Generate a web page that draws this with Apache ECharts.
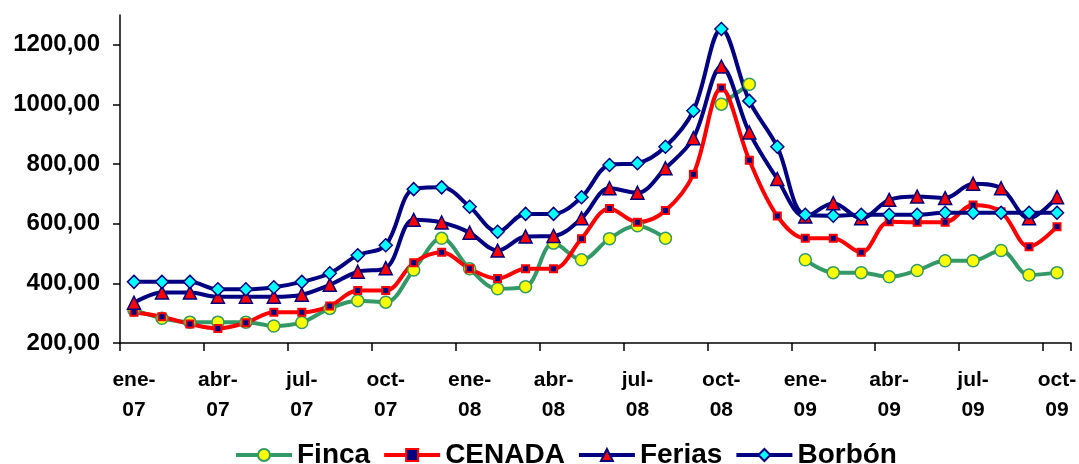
<!DOCTYPE html>
<html>
<head>
<meta charset="utf-8">
<script src="https://cdn.jsdelivr.net/npm/echarts@6/dist/echarts.min.js"></script>
<style>html,body{margin:0;padding:0;background:#fff}#c{width:1079px;height:464px}</style>
</head>
<body>
<div id="c"></div>
<script>
const months = ['ene-\n07','feb-\n07','mar-\n07','abr-\n07','may-\n07','jun-\n07','jul-\n07','ago-\n07','sep-\n07','oct-\n07','nov-\n07','dic-\n07',
                'ene-\n08','feb-\n08','mar-\n08','abr-\n08','may-\n08','jun-\n08','jul-\n08','ago-\n08','sep-\n08','oct-\n08','nov-\n08','dic-\n08',
                'ene-\n09','feb-\n09','mar-\n09','abr-\n09','may-\n09','jun-\n09','jul-\n09','ago-\n09','sep-\n09','oct-\n09'];
const finca  = [311,283,270,270,270,257,269,316,342,337,445,551, 449,382,389,535,479,550,593,551,null,1001,1068,null, 479,436,436,422,443,476,476,510,428,436];
const cenada = [303,288,264,249,268,303,303,324,376,376,469,504, 449,416,449,449,550,651,605,644,766,1055,813,626, 551,551,504,607,605,605,663,640,523,590];
const ferias = [335,369,369,355,355,355,362,395,439,451,613,604, 570,510,557,559,618,719,704,786,887,1127,906,750, 624,669,618,680,691,686,734,719,618,689];
const borbon = [405,405,405,380,380,387,405,434,494,528,716,722, 657,573,633,633,689,797,803,858,979,1253,1012,858, 630,627,630,630,630,637,637,637,637,637];
const yTicks = [200,400,600,800,1000,1200];

const FONT = "'Liberation Sans', Arial, sans-serif";
const NAVY = '#000080';

function mk(name, data, color, symbol, size, fill, border, bw) {
  return {
    name, type: 'line', data, smooth: 0.35, connectNulls: false,
    symbol, symbolSize: size, showAllSymbol: true,
    lineStyle: { color, width: 4 },
    itemStyle: { color: fill, borderColor: border, borderWidth: bw },
    emphasis: { disabled: true }
  };
}

const chart = echarts.init(document.getElementById('c'), null, { renderer: 'canvas' });
chart.setOption({
  animation: false,
  backgroundColor: '#fff',
  grid: { left: 120, right: 8, top: 15, bottom: 121, containLabel: false, outerBoundsMode: 'none' },
  legend: {
    left: 229, top: 436, itemWidth: 56, itemHeight: 15, itemGap: 12,
    lineStyle: { width: 4 },
    textStyle: { fontFamily: FONT, fontWeight: 'bold', fontSize: 28, color: '#000' },
    data: ['Finca', 'CENADA', 'Ferias', 'Borbón']
  },
  xAxis: {
    type: 'category', data: months, boundaryGap: true,
    axisLine: { lineStyle: { color: '#000', width: 1.5 } },
    axisTick: { show: true, interval: 2, length: 8, lineStyle: { color: '#000', width: 1.5 } },
    axisLabel: { interval: 2, margin: 22, lineHeight: 30, fontFamily: FONT, fontWeight: 'bold', fontSize: 21, color: '#000' },
    splitLine: { show: false }
  },
  yAxis: {
    type: 'value', min: 200, max: 1300,
    axisLine: { show: true, lineStyle: { color: '#000', width: 1.5 } },
    axisTick: { show: true, length: 7, customValues: yTicks, lineStyle: { color: '#000', width: 1.5 } },
    axisLabel: { customValues: yTicks, margin: 20, fontFamily: FONT, fontWeight: 'bold', fontSize: 24, color: '#000',
      formatter: v => v.toFixed(2).replace('.', ',') },
    splitLine: { show: false }
  },
  series: [
    mk('Finca', finca, '#339966', 'circle', 12, '#FFFF00', '#339966', 1.5),
    mk('CENADA', cenada, '#FF0000', 'rect', 7, NAVY, '#FF0000', 2),
    mk('Ferias', ferias, NAVY, 'triangle', 13, '#FF0000', NAVY, 1.5),
    mk('Borbón', borbon, NAVY, 'diamond', 13, '#00FFFF', NAVY, 1.5)
  ]
});
</script>
</body>
</html>
